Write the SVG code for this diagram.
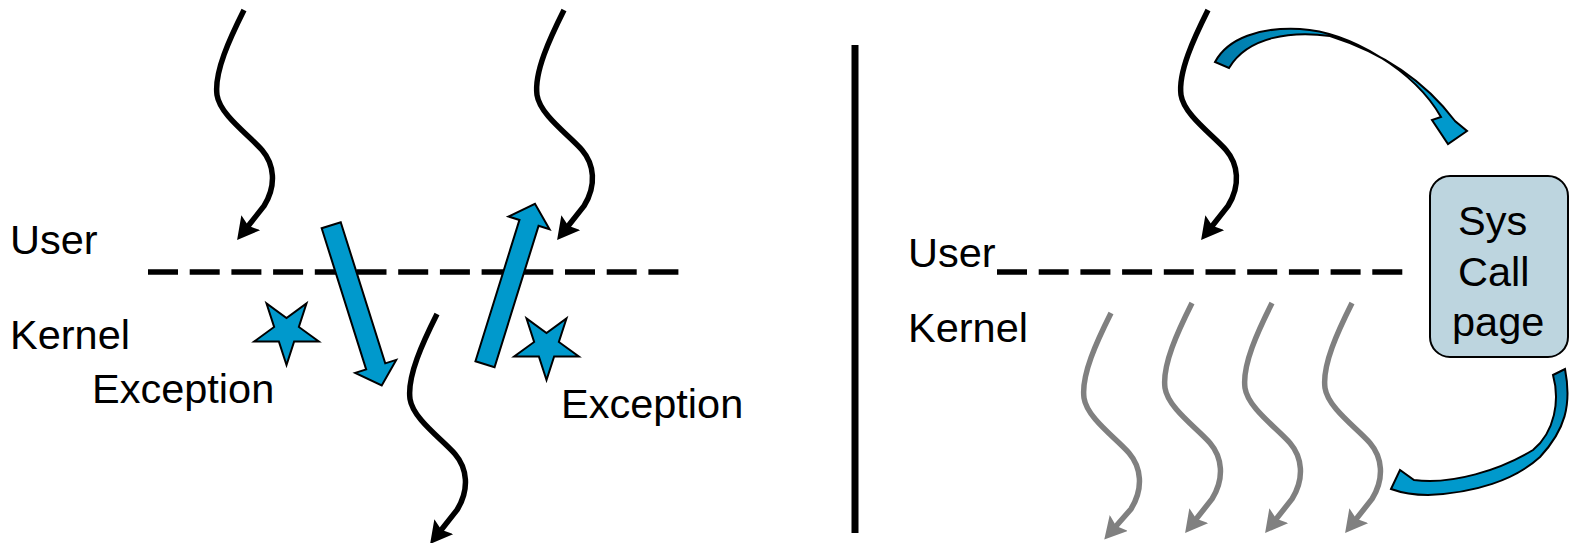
<svg xmlns="http://www.w3.org/2000/svg" width="1569" height="543" viewBox="0 0 1569 543">
  <style>
    .lbl { font-family: "Liberation Sans", Arial, sans-serif; font-size: 41.5px; fill: #000; }
    .thread { fill: none; stroke: #000; stroke-width: 5.5; }
    .thread-gray { fill: none; stroke: #808080; stroke-width: 5.5; }
    .boundary { stroke: #000; stroke-width: 5.5; stroke-dasharray: 30 11.7; fill: none; }
    .blue { fill: #0099CC; stroke: #000; stroke-width: 2; stroke-linejoin: miter; }
  </style>
  <defs>
    <!-- arrowheads: the tip sits 14 units past the end of the line -->
    <marker id="headBlack" markerUnits="userSpaceOnUse" markerWidth="24" markerHeight="26" viewBox="0 0 24 26" refX="8" refY="12" orient="auto">
      <path d="M0,0 L22,12 L0,24 L4,12 Z" fill="#000"/>
    </marker>
    <marker id="headGray" markerUnits="userSpaceOnUse" markerWidth="24" markerHeight="26" viewBox="0 0 24 26" refX="8" refY="12" orient="auto">
      <path d="M0,0 L22,12 L0,24 L4,12 Z" fill="#808080"/>
    </marker>
    <linearGradient id="curveTop" gradientUnits="userSpaceOnUse" x1="1215" y1="0" x2="1330" y2="0">
      <stop offset="0" stop-color="#0079A8"/>
      <stop offset="1" stop-color="#0099CC"/>
    </linearGradient>
    <linearGradient id="curveBottom" gradientUnits="userSpaceOnUse" x1="0" y1="370" x2="0" y2="450">
      <stop offset="0" stop-color="#0079A8"/>
      <stop offset="1" stop-color="#0099CC"/>
    </linearGradient>
  </defs>

  <!-- user/kernel boundaries and divider -->
  <g id="boundaries">
    <line class="boundary" x1="148" y1="272" x2="683" y2="272"/>
    <line class="boundary" x1="997" y1="272" x2="1404" y2="272"/>
    <line x1="855" y1="45" x2="855" y2="533" stroke="#000" stroke-width="7"/>
  </g>

  <!-- labels -->
  <g id="labels">
    <text class="lbl" x="10" y="254">User</text>
    <text class="lbl" x="10" y="349">Kernel</text>
    <text class="lbl" x="92" y="403">Exception</text>
    <text class="lbl" x="561" y="418">Exception</text>
    <text class="lbl" x="908" y="267">User</text>
    <text class="lbl" x="908" y="342">Kernel</text>
  </g>

  <!-- threads: each wave starts at its top end -->
  <g id="connectors">
    <path class="thread" transform="translate(244,10)" marker-end="url(#headBlack)" d="M0,0 C-14,28 -30,62 -27,85 C-24,105 5,125 18,140 C30,154 33,175 20,196 L1.8,219"/>
    <path class="thread" transform="translate(564,10)" marker-end="url(#headBlack)" d="M0,0 C-14,28 -30,62 -27,85 C-24,105 5,125 18,140 C30,154 33,175 20,196 L1.8,219"/>
    <path class="thread" transform="translate(437,314)" marker-end="url(#headBlack)" d="M0,0 C-14,28 -30,62 -27,85 C-24,105 5,125 18,140 C30,154 33,175 20,196 L1.8,219"/>
    <path class="thread" transform="translate(1208,10)" marker-end="url(#headBlack)" d="M0,0 C-14,28 -30,62 -27,85 C-24,105 5,125 18,140 C30,154 33,175 20,196 L1.8,219"/>
    <path class="thread-gray" transform="translate(1111,313)" marker-end="url(#headGray)" d="M0,0 C-14,28 -30,62 -27,85 C-24,105 5,125 18,140 C30,154 33,175 20,196 L2.5,216"/>
    <path class="thread-gray" transform="translate(1192,303)" marker-end="url(#headGray)" d="M0,0 C-14,28 -30,62 -27,85 C-24,105 5,125 18,140 C30,154 33,175 20,196 L1.8,219"/>
    <path class="thread-gray" transform="translate(1272,303)" marker-end="url(#headGray)" d="M0,0 C-14,28 -30,62 -27,85 C-24,105 5,125 18,140 C30,154 33,175 20,196 L1.8,219"/>
    <path class="thread-gray" transform="translate(1352,303)" marker-end="url(#headGray)" d="M0,0 C-14,28 -30,62 -27,85 C-24,105 5,125 18,140 C30,154 33,175 20,196 L1.8,219"/>
  </g>

  <!-- exception transitions: block arrows drawn along +x, then rotated -->
  <g id="trap-down">
    <polygon class="blue" transform="translate(331.2,225.2) rotate(72.5)" points="0,-10 148,-10 148,-21.5 168,0 148,21.5 148,10 0,10"/>
  </g>
  <g id="trap-up">
    <polygon class="blue" transform="translate(485,364.2) rotate(-72.7)" points="0,-10 148,-10 148,-21.5 168,0 148,21.5 148,10 0,10"/>
  </g>
  <!-- inverted five-point stars -->
  <g id="exception-left">
    <polygon class="blue" transform="translate(286.5,331)" points="0,34 -7.64,10.52 -32.33,10.51 -12.36,-4.02 -19.99,-27.51 0,-13 19.99,-27.51 12.36,-4.02 32.33,10.51 7.64,10.52"/>
  </g>
  <g id="exception-right">
    <polygon class="blue" transform="translate(546.5,346)" points="0,34 -7.64,10.52 -32.33,10.51 -12.36,-4.02 -19.99,-27.51 0,-13 19.99,-27.51 12.36,-4.02 32.33,10.51 7.64,10.52"/>
  </g>

  <!-- system call page -->
  <g id="syscall-page">
    <rect x="1430" y="176" width="138" height="181" rx="20" ry="20" fill="#BDD5DF" stroke="#000" stroke-width="2"/>
    <text class="lbl" x="1458" y="235">Sys</text>
    <text class="lbl" x="1458" y="286">Call</text>
    <text class="lbl" x="1452" y="336">page</text>
  </g>

  <!-- curved transfers to and from the call page -->
  <g id="curve-in">
    <path d="M1215,62 C1228,38 1260,27 1300,29 C1350,32 1414,70 1441,117 L1432,120 L1448,144 L1467,131 L1455,121 C1430,88 1390,55 1330,36 C1292,31 1248,36 1229,68 Z" fill="url(#curveTop)" stroke="#000" stroke-width="2" stroke-linejoin="miter"/>
  </g>
  <g id="curve-out">
    <path d="M1553,375 L1565,369 C1572,405 1565,430 1540,457 C1515,480 1475,493 1428,495 C1415,495 1402,493 1391,489 L1400,470 L1414,480 C1452,485 1500,470 1533,450 C1555,432 1560,400 1553,375 Z" fill="url(#curveBottom)" stroke="#000" stroke-width="2" stroke-linejoin="miter"/>
  </g>
</svg>
